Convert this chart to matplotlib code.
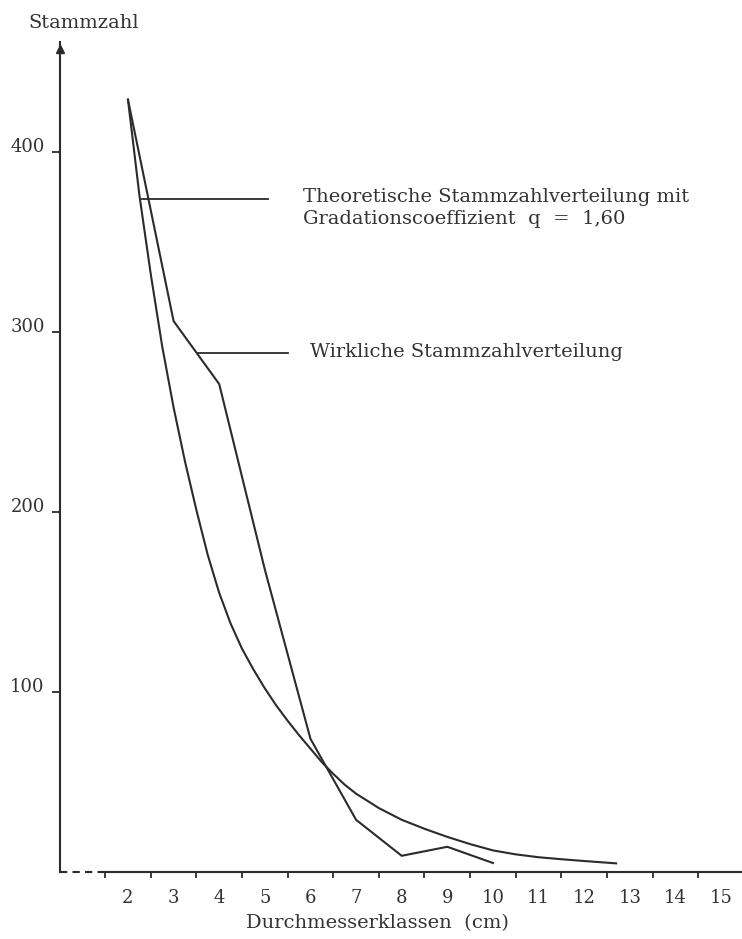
import matplotlib
matplotlib.use("Agg")
import matplotlib.pyplot as plt
from matplotlib.transforms import ScaledTranslation

# Stammzahl je Durchmesserklasse (cm)
klassen_wirklich = [2, 3, 4, 5, 6, 7, 8, 9, 10]
stammzahl_wirklich = [429, 306, 271, 168, 74, 29, 9, 14, 5]

klassen_theorie = [2, 2.25, 2.5, 2.75, 3, 3.25, 3.5, 3.75, 4, 4.25, 4.5,
                   4.75, 5, 5.25, 5.5, 5.75, 6, 6.25, 6.5, 6.75, 7, 7.5, 8,
                   8.5, 9, 9.5, 10, 10.5, 11, 11.5, 12, 12.7]
stammzahl_theorie = [429, 376, 332, 292, 258, 228, 201, 176, 155, 138, 124,
                     112.5, 102, 92.5, 84, 76, 68.5, 61, 54.5, 48.5, 43.5,
                     35.5, 29, 24, 19.5, 15.5, 12, 9.8, 8.2, 7.1, 6.1, 4.8]

x_labels = ["2", "3", "4", "5", "6", "7", "8", "9", "10", "11", "12", "13",
            "14", "15"]
y_ticks = [100, 200, 300, 400]

INK = "#2b2b2b"
TXT = "#333333"
FONT = "DejaVu Serif"
FS_TICK = 13
FS_TEXT = 14

plt.rcParams["font.family"] = FONT

W, H = 742, 939
fig = plt.figure(figsize=(W / 100, H / 100), dpi=100, facecolor="white")

x_min, x_max = 0.51, 15.46
y_max = 461
ax = fig.add_axes([60 / W, 1 - 872 / H, 1 - 60 / W, (872 - 42) / H])
ax.set_xlim(x_min, x_max)
ax.set_ylim(0, y_max)
ax.set_facecolor("none")

# curves
ax.plot(klassen_theorie, stammzahl_theorie, color=INK, lw=1.5,
        solid_joinstyle="round", zorder=3)
ax.plot(klassen_wirklich, stammzahl_wirklich, color=INK, lw=1.5,
        solid_joinstyle="miter", zorder=3)

# axes lines
for s in ("top", "right"):
    ax.spines[s].set_visible(False)
ax.spines["left"].set_color(INK)
ax.spines["left"].set_linewidth(1.5)
ax.spines["bottom"].set_color(INK)
ax.spines["bottom"].set_linewidth(1.5)
ax.spines["bottom"].set_bounds(1.5, x_max)
ax.plot([x_min, 1.5], [0, 0], color=INK, lw=1.5, ls=(0, (3.5, 2.5)),
        clip_on=False)
ax.plot([x_min], [y_max - 4], marker="^", ms=6, color=INK, clip_on=False)

# x ticks: class boundaries as marks, class numbers in between
boundaries = [k + 0.5 for k in range(1, 15)]
centres = [int(s) for s in x_labels]
ax.set_xticks(centres)
ax.set_xticklabels(x_labels, fontsize=FS_TICK, color=TXT)
ax.set_xticks(boundaries, minor=True)
ax.tick_params(axis="x", which="major", length=0, pad=12)
ax.tick_params(axis="x", which="minor", length=4, width=1.3, color=INK,
               direction="out")

# y ticks
ax.set_yticks(y_ticks)
ax.set_yticklabels([str(v) for v in y_ticks], fontsize=FS_TICK, color=TXT)
ax.tick_params(axis="y", length=6, width=1.3, color=INK, direction="out",
               pad=5)
for lab in ax.get_yticklabels():
    lab.set_transform(lab.get_transform()
                      + ScaledTranslation(0, 0.07, fig.dpi_scale_trans))

# axis titles
ax.set_xlabel("Durchmesserklassen  (cm)", fontsize=FS_TEXT, color=TXT,
              va="center")
ax.xaxis.set_label_coords((377 - 60) / 682, -(923 - 872) / 830)
fig.text(28 / W, 1 - 23 / H, "Stammzahl", fontsize=FS_TEXT, color=TXT,
         ha="left", va="center")

# labels with leader lines
ax.plot([2.26, 5.07], [374, 374], color=INK, lw=1.3, zorder=2)
ax.text(5.84, 375, "Theoretische Stammzahlverteilung mit", fontsize=FS_TEXT,
        color=TXT, ha="left", va="center")
ax.text(5.84, 362.5, "Gradationscoeffizient  q  =  1,60", fontsize=FS_TEXT,
        color=TXT, ha="left", va="center")

ax.plot([3.53, 5.51], [288, 288], color=INK, lw=1.3, zorder=2)
ax.text(5.99, 289, "Wirkliche Stammzahlverteilung", fontsize=FS_TEXT,
        color=TXT, ha="left", va="center")

fig.savefig("out.png", dpi=100, facecolor="white")
